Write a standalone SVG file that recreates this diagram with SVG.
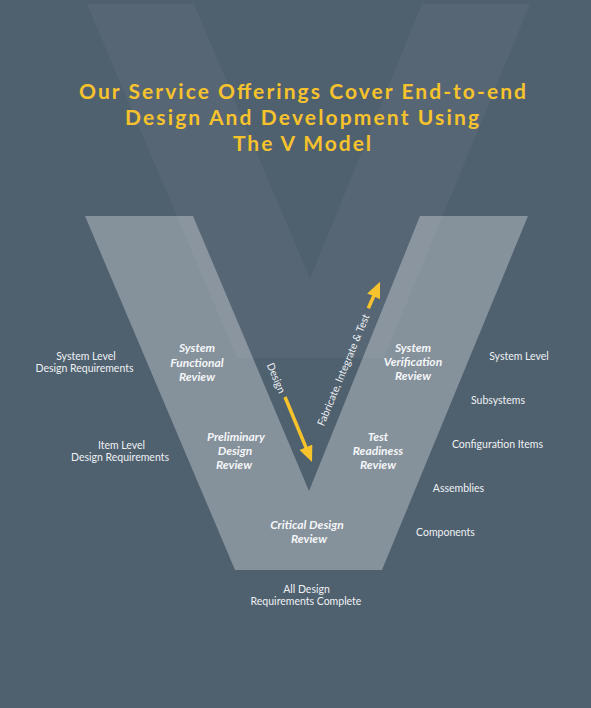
<svg xmlns="http://www.w3.org/2000/svg" width="591" height="708" viewBox="0 0 591 708">
<style>
.title{font-family:Lato,"Liberation Sans",sans-serif;font-weight:700;font-size:21px;fill:#f6c32c;text-anchor:middle}
.rev{font-family:Lato,"Liberation Sans",sans-serif;font-weight:700;font-style:italic;font-size:12px;fill:#f4f6f8;text-anchor:middle}
.lbl{font-family:Lato,"Liberation Sans",sans-serif;font-size:10.5px;fill:#eef1f3;text-anchor:middle}
.arr{stroke:#f6c32c;stroke-width:3.5;fill:none}
</style>
<defs>
<marker id="head" markerUnits="userSpaceOnUse" markerWidth="16" markerHeight="14" viewBox="0 0 16 14" refX="4" refY="7" orient="auto">
<path d="M0,0 L16,7 L0,14 Z" fill="#f6c32c"/>
</marker>
</defs>
<rect width="591" height="708" fill="#4f606f"/>
<g id="bg-v">
<polygon points="87,4 194,4 310,279 422,4 530,4 384,358 237,358" fill="#ffffff" fill-opacity="0.045"/>
</g>
<g id="v-shape">
<polygon points="85,216 193,216 309,491 420,216 528,216 382,570 235,570" fill="#ffffff" fill-opacity="0.31"/>
</g>
<g id="title">
<text class="title" x="302.5" y="98.5" textLength="447" lengthAdjust="spacing">Our Service Offerings Cover End-to-end</text>
<text class="title" x="302" y="124.5" textLength="354" lengthAdjust="spacing">Design And Development Using</text>
<text class="title" x="302" y="151" textLength="138" lengthAdjust="spacing">The V Model</text>
</g>
<g id="system-functional-review">
<text class="rev" x="197" y="352">System</text>
<text class="rev" x="197" y="366.5">Functional</text>
<text class="rev" x="197" y="380.5">Review</text>
</g>
<g id="preliminary-design-review">
<text class="rev" x="236" y="441">Preliminary</text>
<text class="rev" x="235" y="455">Design</text>
<text class="rev" x="234" y="469">Review</text>
</g>
<g id="critical-design-review">
<text class="rev" x="307" y="529">Critical Design</text>
<text class="rev" x="309" y="543">Review</text>
</g>
<g id="test-readiness-review">
<text class="rev" x="378" y="441">Test</text>
<text class="rev" x="378" y="455">Readiness</text>
<text class="rev" x="378" y="469">Review</text>
</g>
<g id="system-verification-review">
<text class="rev" x="413" y="352">System</text>
<text class="rev" x="413" y="366">Verification</text>
<text class="rev" x="413" y="380">Review</text>
</g>
<g id="system-level-design-req">
<text class="lbl" x="86" y="359.5">System Level</text>
<text class="lbl" x="84.5" y="371.5">Design Requirements</text>
</g>
<g id="item-level-design-req">
<text class="lbl" x="121.5" y="448.5">Item Level</text>
<text class="lbl" x="120" y="460.5">Design Requirements</text>
</g>
<g id="all-design-req-complete">
<text class="lbl" x="306.5" y="592.5">All Design</text>
<text class="lbl" x="306" y="604.5">Requirements Complete</text>
</g>
<g id="system-level"><text class="lbl" x="519" y="359.5">System Level</text></g>
<g id="subsystems"><text class="lbl" x="498" y="403.5">Subsystems</text></g>
<g id="configuration-items"><text class="lbl" x="497.5" y="447.5">Configuration Items</text></g>
<g id="assemblies"><text class="lbl" x="458.5" y="491.5">Assemblies</text></g>
<g id="components"><text class="lbl" x="445.5" y="535.5">Components</text></g>
<g id="connectors">
<line class="arr" x1="285" y1="397" x2="307.4" y2="450.9" marker-end="url(#head)"/>
<line class="arr" x1="368.3" y1="308.3" x2="375.2" y2="292.7" marker-end="url(#head)"/>
<text class="lbl" transform="translate(276,378) rotate(67)" x="0" y="3.5">Design</text>
<text class="lbl" transform="translate(343.5,370) rotate(-67.5)" x="0" y="3.5">Fabricate, Integrate &amp; Test</text>
</g>
</svg>
